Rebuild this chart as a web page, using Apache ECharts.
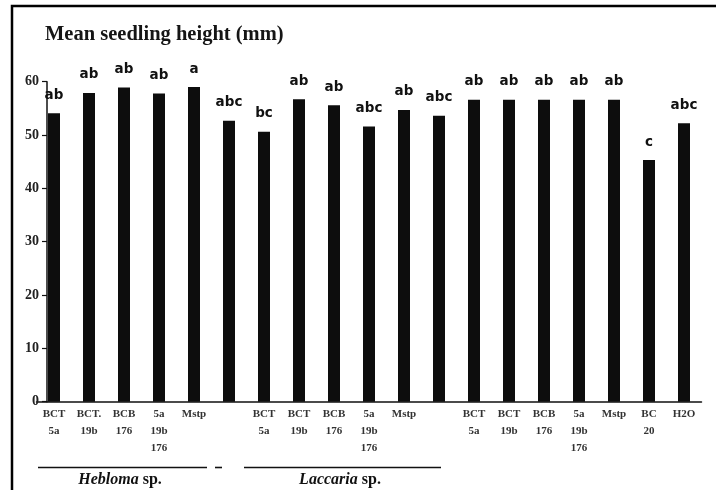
<!DOCTYPE html>
<html>
<head>
<meta charset="utf-8">
<style>
  html, body { margin: 0; padding: 0; background: #fff; }
  #chart { width: 716px; height: 490px; }
</style>
<script src="https://cdn.jsdelivr.net/npm/echarts@6/dist/echarts.min.js"></script>
</head>
<body>
<div id="chart"></div>
<script>
// Treatments along the x axis (blank entries are unlabeled bars)
const categories = [
  'BCT\n5a', 'BCT.\n19b', 'BCB\n176', '5a\n19b\n176', 'Mstp', '',
  'BCT\n5a', 'BCT\n19b', 'BCB\n176', '5a\n19b\n176', 'Mstp', '',
  'BCT\n5a', 'BCT\n19b', 'BCB\n176', '5a\n19b\n176', 'Mstp', 'BC\n20', 'H2O'
];

// Mean seedling height (mm) per treatment
const heights = [
  54.1, 57.9, 58.9, 57.8, 59.0, 52.7,
  50.6, 56.7, 55.6, 51.6, 54.7, 53.6,
  56.6, 56.6, 56.6, 56.6, 56.6, 45.3, 52.2
];

// Significance groups printed above each bar
const groups = [
  'ab', 'ab', 'ab', 'ab', 'a', 'abc',
  'bc', 'ab', 'ab', 'abc', 'ab', 'abc',
  'ab', 'ab', 'ab', 'ab', 'ab', 'c', 'abc'
];

const yTicks = [0, 10, 20, 30, 40, 50, 60];

const serif = '"Liberation Serif", "Times New Roman", serif';

const chart = echarts.init(document.getElementById('chart'));

chart.setOption({
  animation: false,
  backgroundColor: '#fff',
  title: {
    text: 'Mean seedling height (mm)',
    left: 40,
    top: 19,
    textStyle: { fontFamily: serif, fontSize: 20.5, fontWeight: 'bold', color: '#151515' }
  },
  grid: { left: 36.5, width: 665, top: 81.7, height: 320 },
  xAxis: {
    type: 'category',
    data: categories,
    boundaryGap: true,
    axisLine: { lineStyle: { color: '#111', width: 1.5 } },
    axisTick: { show: false },
    axisLabel: {
      interval: 0,
      margin: 4,
      fontFamily: serif,
      fontSize: 11,
      fontWeight: 'bold',
      lineHeight: 17,
      color: '#333',
      verticalAlign: 'top'
    }
  },
  yAxis: {
    type: 'value',
    min: yTicks[0],
    max: yTicks[yTicks.length - 1],
    interval: 10,
    offset: -10.5,
    splitLine: { show: false },
    axisLine: { show: true, lineStyle: { color: '#111', width: 1.5 } },
    axisTick: { show: true, length: 5, lineStyle: { color: '#111', width: 1.2 } },
    axisLabel: {
      margin: 8,
      fontFamily: serif,
      fontSize: 14,
      fontWeight: 'bold',
      color: '#222'
    }
  },
  series: [{
    type: 'bar',
    data: heights,
    barWidth: 12,
    itemStyle: { color: '#0d0d0d' },
    label: {
      show: true,
      position: 'top',
      distance: 11,
      formatter: p => groups[p.dataIndex],
      fontFamily: '"DejaVu Sans", Verdana, sans-serif',
      fontSize: 13.5,
      fontWeight: 'bold',
      color: '#111'
    }
  }],
  graphic: [
    {
      type: 'rect',
      shape: { x: 12, y: 6, width: 740, height: 520 },
      style: { fill: 'none', stroke: '#000', lineWidth: 2.5 },
      silent: true
    },
    {
      type: 'line',
      shape: { x1: 38, y1: 467.5, x2: 207, y2: 467.5 },
      style: { stroke: '#111', lineWidth: 1.6 }
    },
    {
      type: 'line',
      shape: { x1: 215, y1: 467.5, x2: 222, y2: 467.5 },
      style: { stroke: '#111', lineWidth: 1.6 }
    },
    {
      type: 'line',
      shape: { x1: 244, y1: 467.5, x2: 441, y2: 467.5 },
      style: { stroke: '#111', lineWidth: 1.6 }
    },
    {
      type: 'text',
      x: 120, y: 480,
      style: {
        text: '{i|Hebloma} sp.',
        align: 'center',
        verticalAlign: 'middle',
        fontFamily: serif,
        fontSize: 16,
        fontWeight: 'bold',
        fill: '#111',
        rich: { i: { fontStyle: 'italic', fontFamily: serif, fontSize: 16, fontWeight: 'bold', fill: '#111' } }
      }
    },
    {
      type: 'text',
      x: 340, y: 480,
      style: {
        text: '{i|Laccaria} sp.',
        align: 'center',
        verticalAlign: 'middle',
        fontFamily: serif,
        fontSize: 16,
        fontWeight: 'bold',
        fill: '#111',
        rich: { i: { fontStyle: 'italic', fontFamily: serif, fontSize: 16, fontWeight: 'bold', fill: '#111' } }
      }
    }
  ]
});
</script>
</body>
</html>
